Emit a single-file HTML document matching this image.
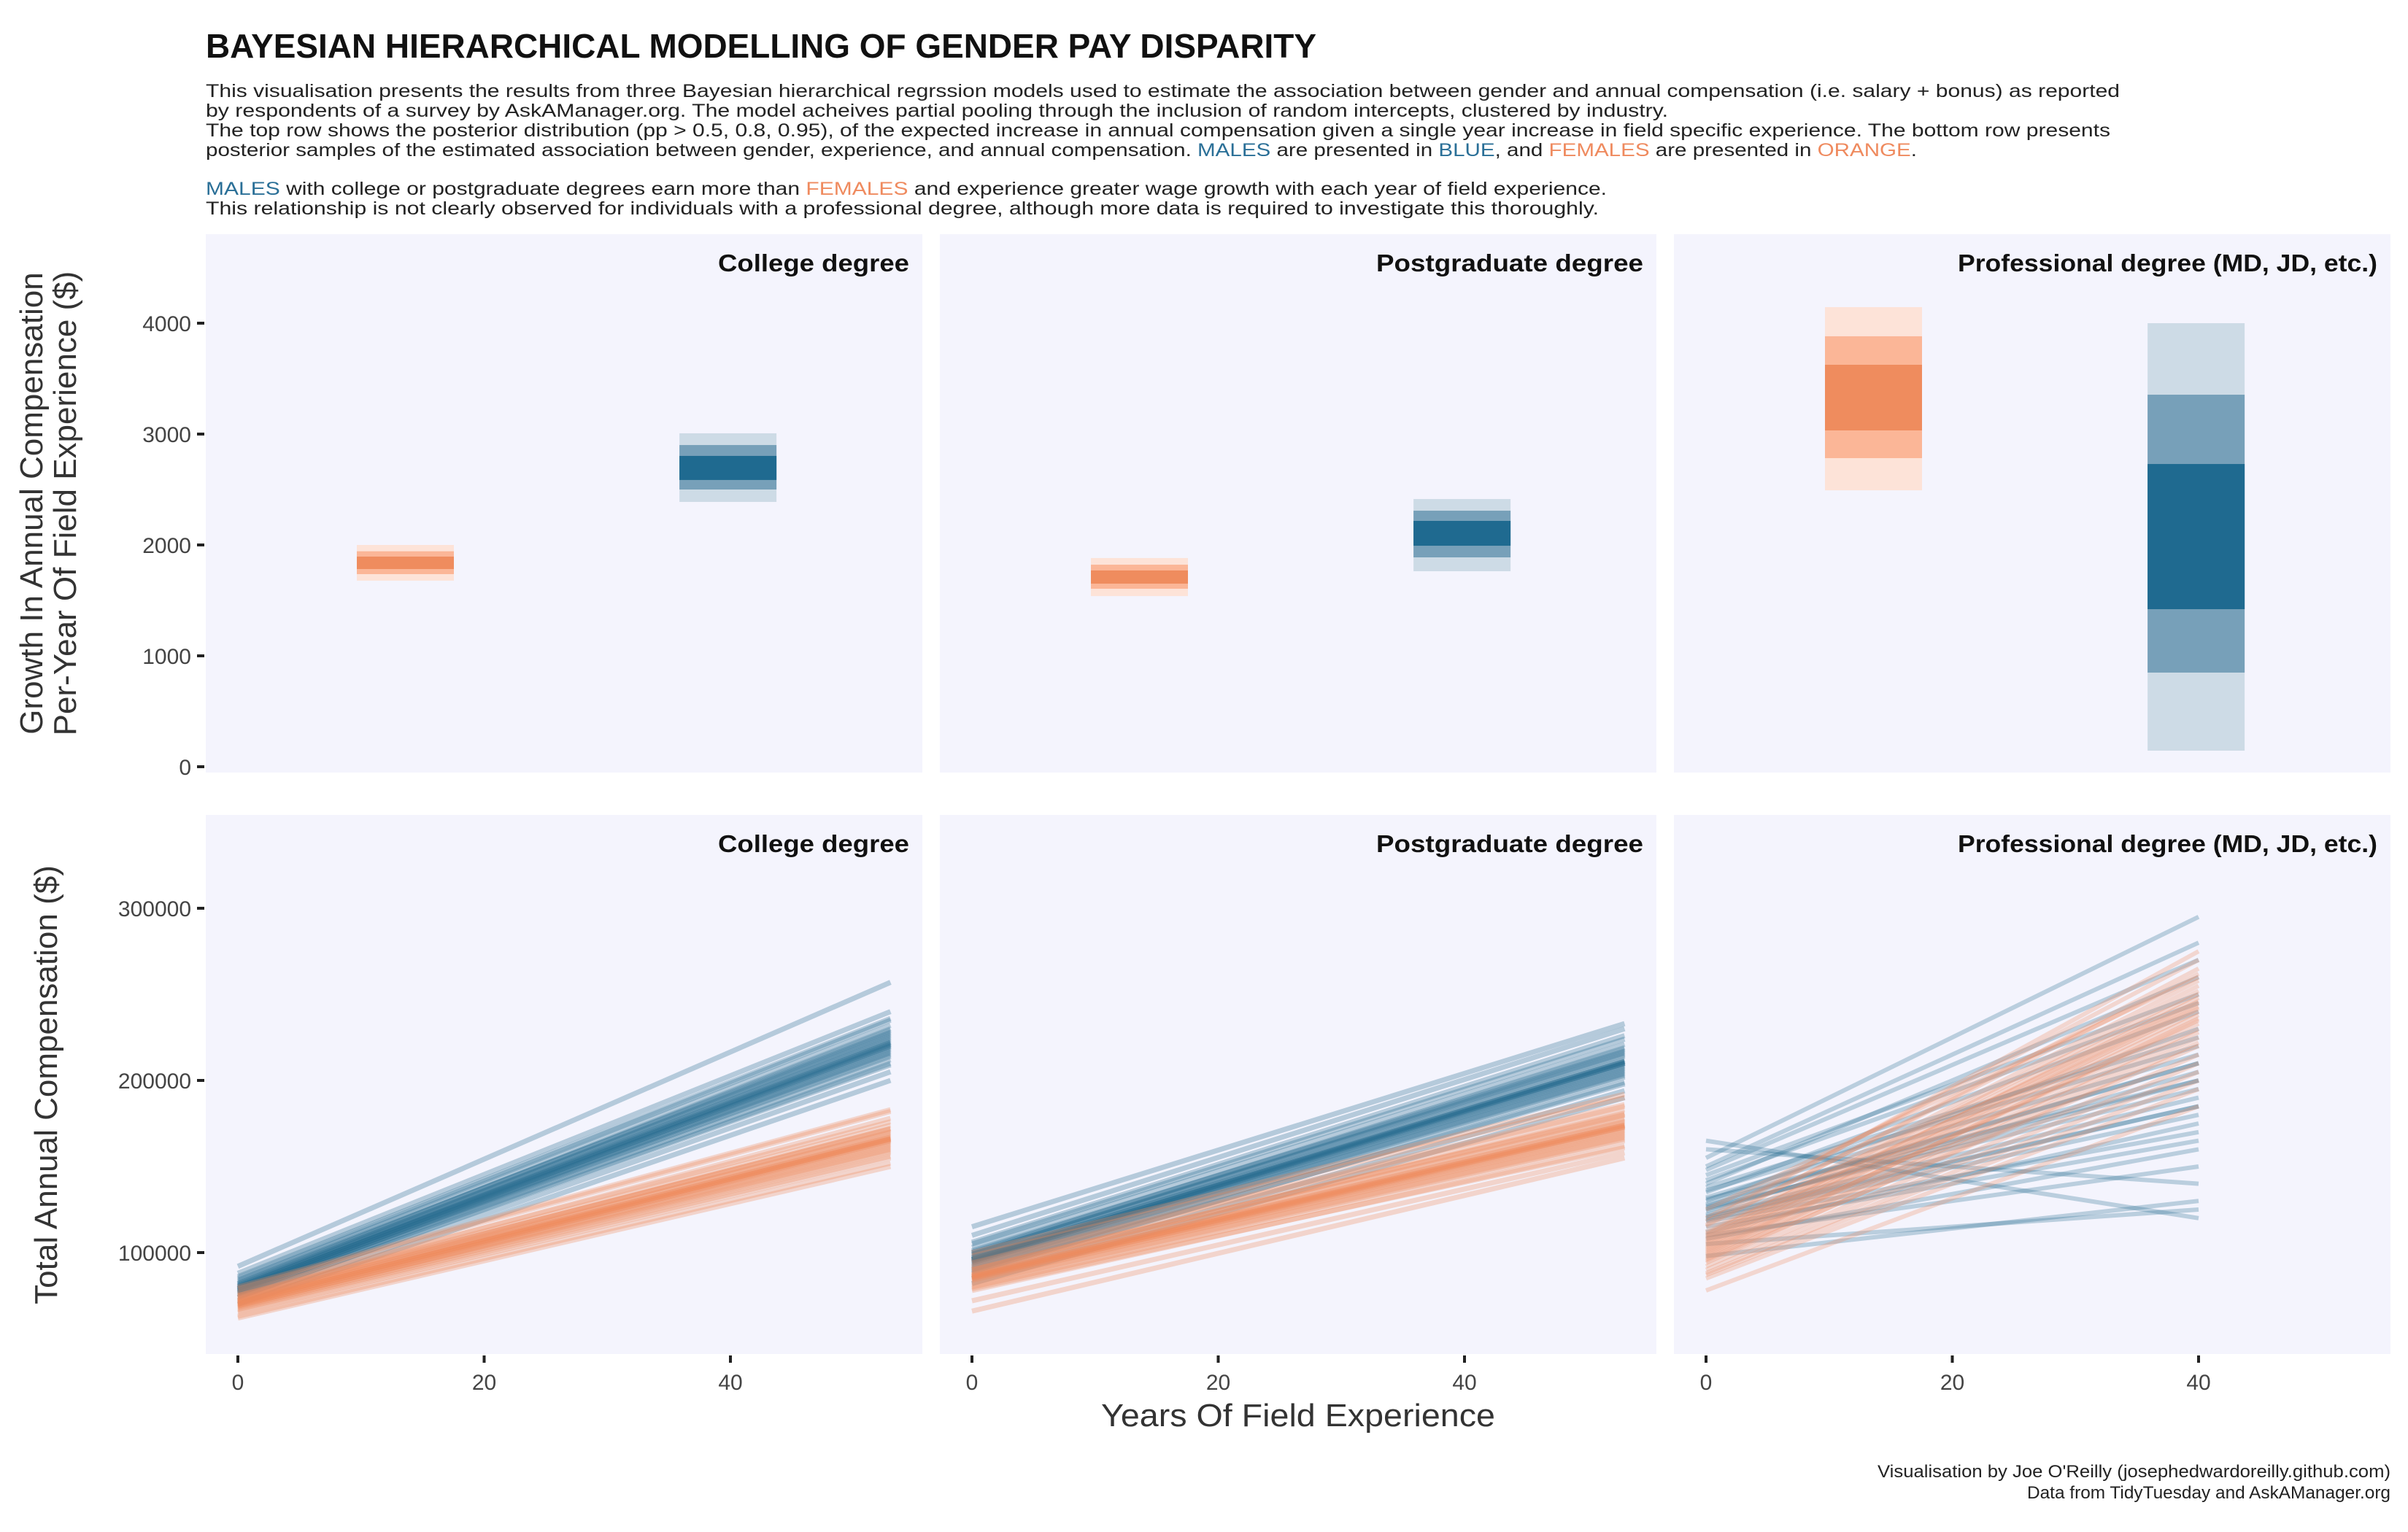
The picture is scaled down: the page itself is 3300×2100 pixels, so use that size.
<!DOCTYPE html>
<html><head><meta charset="utf-8"><style>
html,body{margin:0;padding:0;background:#fff}
svg{display:block}
text{font-family:"Liberation Sans",sans-serif}
</style></head><body>
<svg id="chart" xmlns="http://www.w3.org/2000/svg" width="3300" height="2100" viewBox="0 0 3300 2100">
<text x="282" y="79" font-size="46" font-weight="bold" fill="#111" textLength="1522" lengthAdjust="spacingAndGlyphs">BAYESIAN HIERARCHICAL MODELLING OF GENDER PAY DISPARITY</text>
<g font-size="25" fill="#222">
<text x="282" y="133" textLength="2623" lengthAdjust="spacingAndGlyphs">This visualisation presents the results from three Bayesian hierarchical regrssion models used to estimate the association between gender and annual compensation (i.e. salary + bonus) as reported</text>
<text x="282" y="160" textLength="2004" lengthAdjust="spacingAndGlyphs">by respondents of a survey by AskAManager.org. The model acheives partial pooling through the inclusion of random intercepts, clustered by industry.</text>
<text x="282" y="187" textLength="2610" lengthAdjust="spacingAndGlyphs">The top row shows the posterior distribution (pp &gt; 0.5, 0.8, 0.95), of the expected increase in annual compensation given a single year increase in field specific experience. The bottom row presents</text>
<text x="282" y="214" textLength="2345" lengthAdjust="spacingAndGlyphs">posterior samples of the estimated association between gender, experience, and annual compensation. <tspan fill="#2a6f97">MALES</tspan> are presented in <tspan fill="#2a6f97">BLUE</tspan>, and <tspan fill="#ef8a5e">FEMALES</tspan> are presented in <tspan fill="#ef8a5e">ORANGE</tspan>.</text>
<text x="282" y="267" textLength="1920" lengthAdjust="spacingAndGlyphs"><tspan fill="#2a6f97">MALES</tspan> with college or postgraduate degrees earn more than <tspan fill="#ef8a5e">FEMALES</tspan> and experience greater wage growth with each year of field experience.</text>
<text x="282" y="294" textLength="1909" lengthAdjust="spacingAndGlyphs">This relationship is not clearly observed for individuals with a professional degree, although more data is required to investigate this thoroughly.</text>
</g>
<g id="panels"></g>
<text transform="translate(58,690) rotate(-90)" text-anchor="middle" font-size="44" fill="#333">Growth In Annual Compensation</text>
<text transform="translate(104,690) rotate(-90)" text-anchor="middle" font-size="44" fill="#333">Per-Year Of Field Experience ($)</text>
<text transform="translate(78,1487) rotate(-90)" text-anchor="middle" font-size="44" fill="#333">Total Annual Compensation ($)</text>
<text x="1779" y="1955" text-anchor="middle" font-size="44" fill="#333" textLength="540" lengthAdjust="spacingAndGlyphs">Years Of Field Experience</text>
<text x="3276" y="2025" text-anchor="end" font-size="24" fill="#222" textLength="703" lengthAdjust="spacingAndGlyphs">Visualisation by Joe O'Reilly (josephedwardoreilly.github.com)</text>
<text x="3276" y="2054" text-anchor="end" font-size="24" fill="#222" textLength="498" lengthAdjust="spacingAndGlyphs">Data from TidyTuesday and AskAManager.org</text>
</svg>
<script>
const degrees = ["College degree","Postgraduate degree","Professional degree (MD, JD, etc.)"];
const labelWidths = [262, 366, 575];
const topTicks = [0,1000,2000,3000,4000];
const bottomTicks = [100000,200000,300000];
const xTicks = [0,20,40];
const genderX = [13.6, 39.8];
// intervals per degree: [lo95, lo80, lo50, hi50, hi80, hi95]
const femaleIntervals = [[1678,1737,1783,1895,1943,2000],[1539,1605,1651,1770,1822,1882],[2493,2783,3033,3625,3882,4145]];
const maleIntervals = [[2388,2500,2586,2803,2901,3007],[1763,1888,1993,2217,2309,2414],[145,849,1421,2730,3355,4000]];
const xEnd = [53.0,53.0,40];
const maleStart = [
[78,80,76,82,79,74,85,77,81,83,75,79,78,88,72,80,77,84,79,76,81,92,70,78,80,82,77,79,86,74],
[95,98,92,100,96,88,105,94,99,101,90,96,95,110,85,97,93,103,96,91,99,115,82,95,97,100,94,96,106,89],
[125,130,118,140,122,110,150,128,135,115,160,120,132,105,145,126,138,112,155,124,98,165,119,142,127,108,136,121,148,131]];
const maleEnd = [
[220,225,215,230,222,210,235,218,226,228,212,221,219,240,205,224,216,232,223,214,227,257,200,220,222,229,217,221,236,209],
[210,214,204,219,211,199,224,207,215,217,202,210,208,230,194,212,205,221,211,203,216,233,190,209,211,218,206,210,226,198],
[200,230,170,260,190,150,280,210,240,165,140,185,215,125,250,195,225,175,295,205,130,120,180,245,210,160,220,185,270,200]];
const femaleStart = [
[70,72,68,74,71,66,76,69,73,75,67,71,70,79,63,72,69,75,71,68,73,80,62,70,72,74,69,71,77,65],
[85,87,82,90,86,78,94,84,88,91,80,86,85,98,72,87,83,92,86,81,89,100,66,85,87,90,84,86,95,79],
[100,105,95,110,98,88,115,102,108,92,120,97,104,85,112,101,107,90,118,99,78,125,96,111,103,87,109,94,116,106]];
const femaleEnd = [
[165,168,160,172,166,156,178,163,169,171,158,166,164,182,152,167,161,174,166,159,170,183,150,165,167,172,162,166,176,155],
[173,176,167,181,174,162,185,170,177,180,165,173,171,190,158,175,168,183,174,166,178,192,155,172,174,180,169,173,186,161],
[235,245,220,255,230,205,265,238,250,215,270,228,242,195,258,233,248,210,275,236,185,260,225,252,240,200,246,222,262,243]];

const NS="http://www.w3.org/2000/svg";
const root=document.getElementById("panels");
function mk(tag,attrs,parent){const e=document.createElementNS(NS,tag);for(const k in attrs)e.setAttribute(k,attrs[k]);(parent||root).appendChild(e);return e;}
const PX0=282, PW=982, PSTEP=1006;
function xs(p,x){return 326+PSTEP*p+x*16.875;}
function yTop(v){return 1051-v*0.152;}
function yBot(v){return 1717-(v-100000)*0.00236;}
const fem=["#fde3d8","#fbb697","#ef8c5e"], mal=["#cddbe6","#77a0b9","#1f6a90"];

for(let p=0;p<3;p++){
  const left=PX0+PSTEP*p;
  const bg=mk("rect",{x:left,y:321,width:PW,height:738,fill:"#f4f4fd"});
  
  
  const lab=mk("text",{x:left+PW-18,y:372,"text-anchor":"end","font-size":"33","font-weight":"bold",fill:"#111",textLength:labelWidths[p],lengthAdjust:"spacingAndGlyphs"});
  lab.textContent=degrees[p];
  
  
  [[femaleIntervals,fem,0],[maleIntervals,mal,1]].forEach(([iv,cols,g])=>{
    const d=iv[p];
    for(let k=0;k<3;k++){
      const lo=d[k], hi=d[5-k];
      const r=mk("rect",{x:xs(p,genderX[g])-66.5,y:yTop(hi),width:133,height:yTop(lo)-yTop(hi),fill:cols[k]});
      
      
    }
  });
  const bg2=mk("rect",{x:left,y:1117,width:PW,height:739,fill:"#f4f4fd"});
  
  
  const lab2=mk("text",{x:left+PW-18,y:1168,"text-anchor":"end","font-size":"33","font-weight":"bold",fill:"#111",textLength:labelWidths[p],lengthAdjust:"spacingAndGlyphs"});
  lab2.textContent=degrees[p];
  
  
  [[maleStart,maleEnd,"#236a90",'male'],[femaleStart,femaleEnd,"#ee8a5e",'female']].forEach(([S,E,c,nm])=>{
    const ss=S[p], ee=E[p];
    for(let i=0;i<ss.length;i++){
      const l=mk("line",{x1:xs(p,0),y1:yBot(ss[i]*1000),x2:xs(p,xEnd[p]),y2:yBot(ee[i]*1000),stroke:c,"stroke-width":p==2?"6":"7","stroke-opacity":p==2?"0.28":"0.3"});
      
      
    }
  });
  xTicks.forEach(t=>{
    const tk=mk("line",{x1:xs(p,t),y1:1858,x2:xs(p,t),y2:1868,stroke:"#222","stroke-width":"4"});
    
    
    const tl=mk("text",{x:xs(p,t),y:1905,"text-anchor":"middle","font-size":"30",fill:"#444"});
    tl.textContent=t;
    
    
  });
}
topTicks.forEach(t=>{
  const tk=mk("line",{x1:270,y1:yTop(t),x2:280,y2:yTop(t),stroke:"#222","stroke-width":"4"});
  
  
  const tl=mk("text",{x:262,y:yTop(t)+11,"text-anchor":"end","font-size":"30",fill:"#444"});
  tl.textContent=t;
  
  
});
bottomTicks.forEach(t=>{
  const tk=mk("line",{x1:270,y1:yBot(t),x2:280,y2:yBot(t),stroke:"#222","stroke-width":"4"});
  
  
  const tl=mk("text",{x:262,y:yBot(t)+11,"text-anchor":"end","font-size":"30",fill:"#444"});
  tl.textContent=t;
  
  
});
</script>
</body></html>
